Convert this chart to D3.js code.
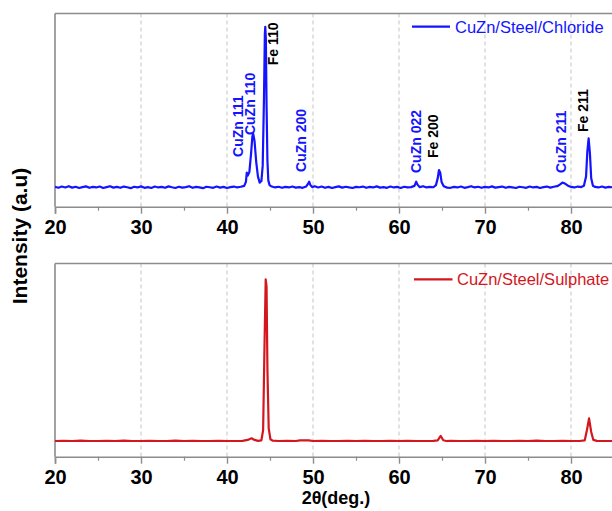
<!DOCTYPE html>
<html><head><meta charset="utf-8">
<script src="https://cdn.jsdelivr.net/npm/d3@7"></script>
<style>body{margin:0;background:#fff}svg{display:block}text{font-family:"Liberation Sans",Arial,sans-serif}</style>
</head><body>
<svg id="c" width="612" height="511"></svg>
<script>
// ---- data ----
const xTicks = [20, 30, 40, 50, 60, 70, 80];
const xMinorTicks = [25, 35, 45, 55, 65, 75, 85];
const seriesNames = ["CuZn/Steel/Chloride", "CuZn/Steel/Sulphate"];
const chlorideTheta = [20.0,20.4,20.8,21.2,21.6,22.0,22.4,22.8,23.2,23.6,24.0,24.4,24.8,25.2,25.6,26.0,26.4,26.8,27.2,27.6,28.0,28.4,28.8,29.2,29.6,30.0,30.4,30.8,31.2,31.6,32.0,32.4,32.8,33.2,33.6,34.0,34.4,34.8,35.2,35.6,36.0,36.4,36.8,37.2,37.6,38.0,38.4,38.8,39.2,39.6,40.0,40.4,40.8,41.2,41.6,42.0,42.2,42.3,42.4,42.6,42.8,42.95,43.05,43.2,43.4,43.6,43.8,44.0,44.15,44.3,44.4,44.45,44.52,44.6,44.7,44.8,44.95,45.2,45.6,46.0,46.4,46.8,47.2,47.6,48.0,48.4,48.8,49.2,49.45,49.55,49.7,49.9,50.2,50.6,51.0,51.4,51.8,52.2,52.6,53.0,53.4,53.8,54.2,54.6,55.0,55.4,55.8,56.2,56.6,57.0,57.4,57.8,58.2,58.6,59.0,59.4,59.8,60.2,60.6,61.0,61.4,61.8,62.0,62.15,62.4,62.8,63.2,63.6,64.0,64.3,64.5,64.65,64.8,64.95,65.2,65.6,66.0,66.4,66.8,67.2,67.6,68.0,68.4,68.8,69.2,69.6,70.0,70.4,70.8,71.2,71.6,72.0,72.4,72.8,73.2,73.6,74.0,74.4,74.8,75.2,75.6,76.0,76.4,76.8,77.2,77.6,78.0,78.4,78.7,79.0,79.3,79.6,80.0,80.4,80.8,81.2,81.5,81.75,81.9,82.05,82.2,82.35,82.55,82.8,83.2,83.6,84.0,84.4,84.8,85.2];
const chlorideIntensity = [102,97,104,99,106,98,103,96,101,105,97,102,99,104,96,101,106,98,102,97,104,100,95,103,99,105,97,101,96,104,99,102,97,105,100,96,103,98,101,106,97,102,99,95,103,100,97,104,98,102,96,101,104,99,103,108,130,182,165,185,290,385,399,360,240,160,126,135,220,600,960,1000,930,560,250,140,112,104,99,103,97,102,99,104,98,101,97,104,122,131,112,101,106,99,104,97,102,96,101,105,98,103,99,96,102,100,104,97,102,99,105,98,101,97,104,99,102,96,103,99,101,108,131,115,101,106,99,102,100,112,150,197,180,130,106,98,97,102,99,104,97,101,106,99,103,97,102,99,105,98,101,104,97,102,99,96,103,100,97,104,99,102,96,101,104,98,103,106,115,126,121,110,102,99,104,101,108,160,300,375,290,150,108,102,99,104,98,102,100,101];
const sulphateTheta = [20,21,22,23,24,25,26,27,28,29,30,31,32,33,34,35,36,37,38,39,40,41,41.8,42.4,42.85,43.2,43.6,44.0,44.2,44.35,44.5,44.6,44.7,44.85,45.05,45.3,46,47,48,48.5,49,49.5,50,51,52,53,54,55,56,57,58,59,60,61,62,63,64,64.5,64.85,65.15,65.5,66,67,68,69,70,71,72,73,74,75,76,77,78,79,80,81,81.6,81.85,82.1,82.35,82.6,83,84,85];
const sulphateIntensity = [100,101,100,102,100,100,101,100,102,100,100,101,100,100,102,100,101,100,100,101,100,100,101,106,115,106,101,104,160,600,1000,960,500,170,110,102,100,101,100,104,103,104,100,101,100,100,101,100,101,100,100,101,100,101,100,100,101,104,128,104,100,101,100,100,101,100,101,100,100,101,100,102,100,100,101,100,100,104,160,226,150,106,101,100,100];
const peakNames = ["CuZn 111","CuZn 110","Fe 110","CuZn 200","CuZn 022","Fe 200","CuZn 211","Fe 211"];
const peakLabelTheta = [41.28,42.67,45.35,48.6,61.92,64.0,78.84,81.45];
const peakLabelIntensity = [270,393,785,186,180,264,180,410];
const peakPhase = ["CuZn","CuZn","Fe","CuZn","CuZn","Fe","CuZn","Fe"];

// ---- layout ----
const svg = d3.select("#c");
const colors = ["#1414ff", "#d4161e"];
const left = 55, plotRight = 55 + 70 * 8.6;
const x = d3.scaleLinear().domain([20, 90]).range([left, plotRight]);
const panels = [
  {top: 13.5, bottom: 206.7, y: d3.scaleLinear().domain([-9, 1075]).range([206.7, 13.5]),
   theta: chlorideTheta, inten: chlorideIntensity, legY: 26.7, legX1: 412, legX2: 450, legTX: 455},
  {top: 263.5, bottom: 456.7, y: d3.scaleLinear().domain([12.6, 1089]).range([456.7, 263.5]),
   theta: sulphateTheta, inten: sulphateIntensity, legY: 279.3, legX1: 414, legX2: 452.5, legTX: 457}
];

svg.append("defs").selectAll("clipPath").data(panels).join("clipPath")
  .attr("id", (d, i) => "clip" + i)
  .append("rect").attr("x", left).attr("y", d => d.top).attr("width", 700).attr("height", d => d.bottom - d.top);

panels.forEach((p, i) => {
  const g = svg.append("g");
  // grid
  g.selectAll(".grid").data(xTicks.filter(t => t > 20)).join("line")
    .attr("x1", d => x(d)).attr("x2", d => x(d)).attr("y1", p.top).attr("y2", p.bottom)
    .attr("stroke", "#c4c4c4").attr("stroke-width", 1).attr("stroke-dasharray", "4,3");
  // frame: top & left
  g.append("line").attr("x1", left).attr("x2", 700).attr("y1", p.top).attr("y2", p.top)
    .attr("stroke", "#8c8c8c").attr("stroke-width", 1.6);
  g.append("line").attr("x1", left).attr("x2", left).attr("y1", p.top).attr("y2", p.bottom)
    .attr("stroke", "#8c8c8c").attr("stroke-width", 1.6);
  // x axis
  const ax = g.append("g").attr("transform", `translate(0,${p.bottom})`)
    .call(d3.axisBottom(x).tickValues(xTicks).tickSize(7).tickPadding(6).tickFormat(d3.format("d")));
  ax.select(".domain").attr("stroke", "#8c8c8c").attr("stroke-width", 1.6);
  ax.selectAll(".tick line").attr("stroke", "#8c8c8c").attr("stroke-width", 1.4);
  ax.selectAll(".tick text").attr("fill", "#000").attr("font-size", "20px").attr("font-weight", "bold")
    .attr("font-family", "'Liberation Sans',Arial,sans-serif");
  const axm = g.append("g").attr("transform", `translate(0,${p.bottom})`)
    .call(d3.axisBottom(x).tickValues(xMinorTicks).tickSize(4).tickFormat(""));
  axm.select(".domain").remove();
  axm.selectAll(".tick line").attr("stroke", "#8c8c8c").attr("stroke-width", 1.2);
  // data line
  const pts = p.theta.map((t, k) => [t, p.inten[k]]);
  g.append("path").datum(pts).attr("clip-path", `url(#clip${i})`)
    .attr("fill", "none").attr("stroke", colors[i]).attr("stroke-width", 2.2).attr("stroke-linejoin", "round")
    .attr("d", d3.line().x(d => x(d[0])).y(d => p.y(d[1])));
  // legend
  g.append("line").attr("x1", p.legX1).attr("x2", p.legX2).attr("y1", p.legY).attr("y2", p.legY)
    .attr("stroke", colors[i]).attr("stroke-width", 2.2);
  g.append("text").attr("x", p.legTX).attr("y", p.legY).attr("dominant-baseline", "central")
    .attr("font-size", "16.5px").attr("fill", colors[i]).text(seriesNames[i]);
});

// peak labels (top panel)
const p0 = panels[0];
svg.append("g").selectAll("text").data(peakNames).join("text")
  .attr("transform", (d, k) => `translate(${x(peakLabelTheta[k])},${p0.y(peakLabelIntensity[k])}) rotate(-90)`)
  .attr("dominant-baseline", "central").attr("text-anchor", "start")
  .attr("font-size", "14px").attr("font-weight", "bold")
  .attr("fill", (d, k) => peakPhase[k] === "Fe" ? "#000" : colors[0])
  .text(d => d);

// axis titles
svg.append("text").attr("transform", "translate(19,236) rotate(-90)")
  .attr("text-anchor", "middle").attr("dominant-baseline", "central")
  .attr("font-size", "21px").attr("font-weight", "bold").text("Intensity (a.u)");
svg.append("text").attr("x", 336).attr("y", 498).attr("text-anchor", "middle").attr("dominant-baseline", "central")
  .attr("font-size", "18px").attr("font-weight", "bold").text("2θ(deg.)");
</script>
</body></html>
